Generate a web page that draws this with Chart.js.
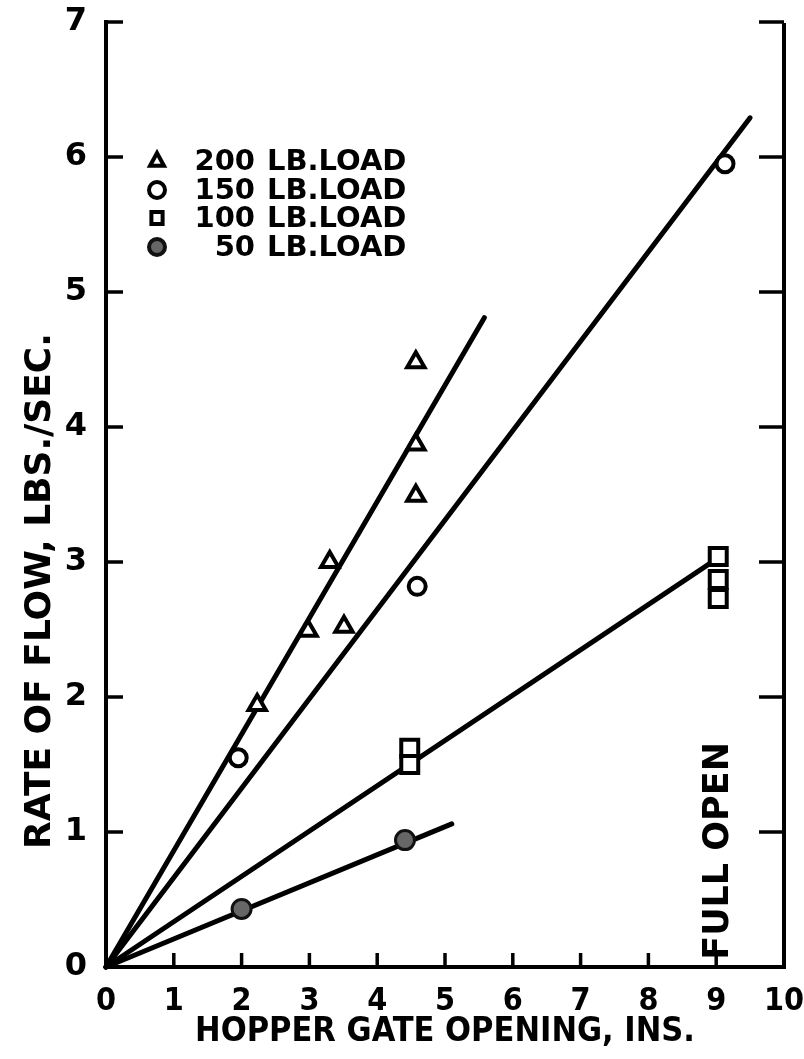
<!DOCTYPE html>
<html><head><meta charset="utf-8">
<script src="https://cdn.jsdelivr.net/npm/chart.js@4/dist/chart.umd.min.js"></script>
<style>html,body{margin:0;padding:0;background:#fff;}#wrap{width:804px;height:1059px;}</style>
</head><body><div id="wrap"><canvas id="c" width="804" height="1059"></canvas></div>
<script>
// ---- data ----
const xTickValues = [0,1,2,3,4,5,6,7,8,9,10];
const yTickValues = [0,1,2,3,4,5,6,7];
const loadLabels = ['200','150','100','50'];
const loadUnit = 'LB.LOAD';

const load200X = [2.23, 2.98, 3.30, 3.51, 4.57, 4.57, 4.57];
const load200Y = [1.94, 2.49, 3.00, 2.52, 4.48, 3.87, 3.49];
const load150X = [1.95, 4.59, 9.13];
const load150Y = [1.55, 2.82, 5.95];
const load100X = [4.48, 4.48, 9.03, 9.03, 9.03];
const load100Y = [1.62, 1.50, 3.04, 2.87, 2.73];
const load50X  = [2.00, 4.41];
const load50Y  = [0.43, 0.94];

// fitted lines: from origin to end point
const fitStartX = [0, 0, 0, 0];
const fitStartY = [0, 0, 0, 0];
const fitEndX = [5.58, 9.50, 9.03, 5.10];
const fitEndY = [4.81, 6.29, 3.03, 1.06];

const xTitle = 'HOPPER GATE OPENING, INS.';
const yTitle = 'RATE OF FLOW, LBS./SEC.';
const noteText = 'FULL OPEN';

// ---- build ----
const pts = (xs, ys) => xs.map((x, i) => ({x, y: ys[i]}));
const markerStyles = [
  {pointStyle:'triangle', radius:10, fill:'#fff', border:'#000', bw:4},
  {pointStyle:'circle', radius:8.5, fill:'#fff', border:'#000', bw:4},
  {pointStyle:'rect', radius:12, fill:'#fff', border:'#000', bw:4},
  {pointStyle:'circle', radius:9.5, fill:'#666', border:'#111', bw:3}
];
const seriesData = [pts(load200X, load200Y), pts(load150X, load150Y), pts(load100X, load100Y), pts(load50X, load50Y)];

const datasets = [];
seriesData.forEach((d, i) => {
  const m = markerStyles[i];
  datasets.push({
    label: loadLabels[i] + ' ' + loadUnit,
    data: d, showLine: false, order: 0,
    pointStyle: m.pointStyle, pointRadius: m.radius,
    pointBackgroundColor: m.fill, pointBorderColor: m.border, pointBorderWidth: m.bw
  });
});
fitEndX.forEach((ex, i) => {
  datasets.push({
    label: 'fit ' + loadLabels[i],
    data: [{x: fitStartX[i], y: fitStartY[i]}, {x: ex, y: fitEndY[i]}],
    showLine: true, order: 1, borderColor: '#000', borderWidth: 5,
    pointRadius: 0, borderCapStyle: 'round', clip: false
  });
});

function drawMarker(ctx, style, x, y, r, fill, border, bw) {
  ctx.save();
  ctx.fillStyle = fill; ctx.strokeStyle = border; ctx.lineWidth = bw;
  ctx.beginPath();
  if (style === 'triangle') {
    ctx.moveTo(x, y - r); ctx.lineTo(x + r * 0.87, y + r * 0.6); ctx.lineTo(x - r * 0.87, y + r * 0.6); ctx.closePath();
  } else if (style === 'rect') {
    ctx.rect(x - r * 0.7, y - r * 0.75, r * 1.4, r * 1.5);
  } else {
    ctx.arc(x, y, r, 0, Math.PI * 2);
  }
  ctx.fill(); ctx.stroke();
  ctx.restore();
}

const framePlugin = {
  id: 'frame',
  afterDraw(chart) {
    const ctx = chart.ctx, a = chart.chartArea;
    const xs = chart.scales.x, ys = chart.scales.y;
    ctx.save();
    ctx.strokeStyle = '#000'; ctx.lineCap = 'square';
    ctx.lineWidth = 4;
    ctx.beginPath();
    ctx.moveTo(a.left, a.top); ctx.lineTo(a.left, a.bottom); ctx.lineTo(a.right, a.bottom); ctx.lineTo(a.right, a.top + 3);
    ctx.stroke();
    ctx.lineWidth = 3.5; ctx.lineCap = 'butt';
    yTickValues.forEach(v => {
      if (v === 0) return;
      const py = ys.getPixelForValue(v);
      ctx.beginPath(); ctx.moveTo(a.left, py); ctx.lineTo(a.left + 17, py); ctx.stroke();
      ctx.beginPath(); ctx.moveTo(a.right, py); ctx.lineTo(a.right - 25, py); ctx.stroke();
    });
    xTickValues.forEach(v => {
      if (v === 0 || v === 10) return;
      const px = xs.getPixelForValue(v);
      ctx.beginPath(); ctx.moveTo(px, a.bottom); ctx.lineTo(px, a.bottom - 14); ctx.stroke();
    });
    // y title
    ctx.fillStyle = '#000';
    ctx.font = 'bold 36px "DejaVu Sans"';
    ctx.textAlign = 'center'; ctx.textBaseline = 'middle';
    ctx.save(); ctx.translate(41, 591); ctx.rotate(-Math.PI / 2); ctx.fillText(yTitle, 0, 0); ctx.restore();
    // FULL OPEN
    ctx.font = 'bold 35px "DejaVu Sans"';
    ctx.save(); ctx.translate(xs.getPixelForValue(9) + 3, ys.getPixelForValue(0.86)); ctx.rotate(-Math.PI / 2); ctx.fillText(noteText, 0, 0); ctx.restore();
    // legend
    const rowsY = [161, 190, 218, 247];
    ctx.font = 'bold 29px "DejaVu Sans"';
    ctx.textBaseline = 'middle';
    loadLabels.forEach((lab, i) => {
      const m = markerStyles[i];
      drawMarker(ctx, m.pointStyle, 157, rowsY[i], 8, m.fill, m.border, 4);
      ctx.textAlign = 'right'; ctx.fillText(lab, 255, rowsY[i] + 1);
      ctx.textAlign = 'left'; ctx.fillText(loadUnit, 267, rowsY[i] + 1);
    });
    ctx.restore();
  }
};

new Chart(document.getElementById('c'), {
  type: 'scatter',
  data: { datasets },
  options: {
    responsive: false, animation: false, devicePixelRatio: 1,
    layout: { padding: { top: 22, right: 20, left: 0, bottom: 0 } },
    plugins: { legend: { display: false }, tooltip: { enabled: false } },
    scales: {
      x: {
        type: 'linear', min: 0, max: 10,
        afterBuildTicks: s => { s.ticks = xTickValues.map(v => ({value: v})); },
        afterFit: s => { s.height = 92; s.paddingLeft = 0; s.paddingRight = 0; },
        grid: { display: false, drawTicks: false }, border: { display: false },
        ticks: { color: '#000', padding: 15, maxRotation: 0, font: { family: 'DejaVu Sans Condensed', weight: 'bold', size: 32 } },
        title: { display: true, text: xTitle, color: '#000', padding: { top: 0, bottom: 6 },
                 font: { family: 'DejaVu Sans Condensed', weight: 'bold', size: 34 } }
      },
      y: {
        type: 'linear', min: 0, max: 7,
        afterBuildTicks: s => { s.ticks = yTickValues.map(v => ({value: v})); },
        afterFit: s => { s.width = 106; s.paddingTop = 0; s.paddingBottom = 0; },
        grid: { display: false, drawTicks: false }, border: { display: false },
        ticks: { color: '#000', padding: 19, font: { family: 'DejaVu Sans', weight: 'bold', size: 32 } }
      }
    }
  },
  plugins: [framePlugin]
});
</script></body></html>
